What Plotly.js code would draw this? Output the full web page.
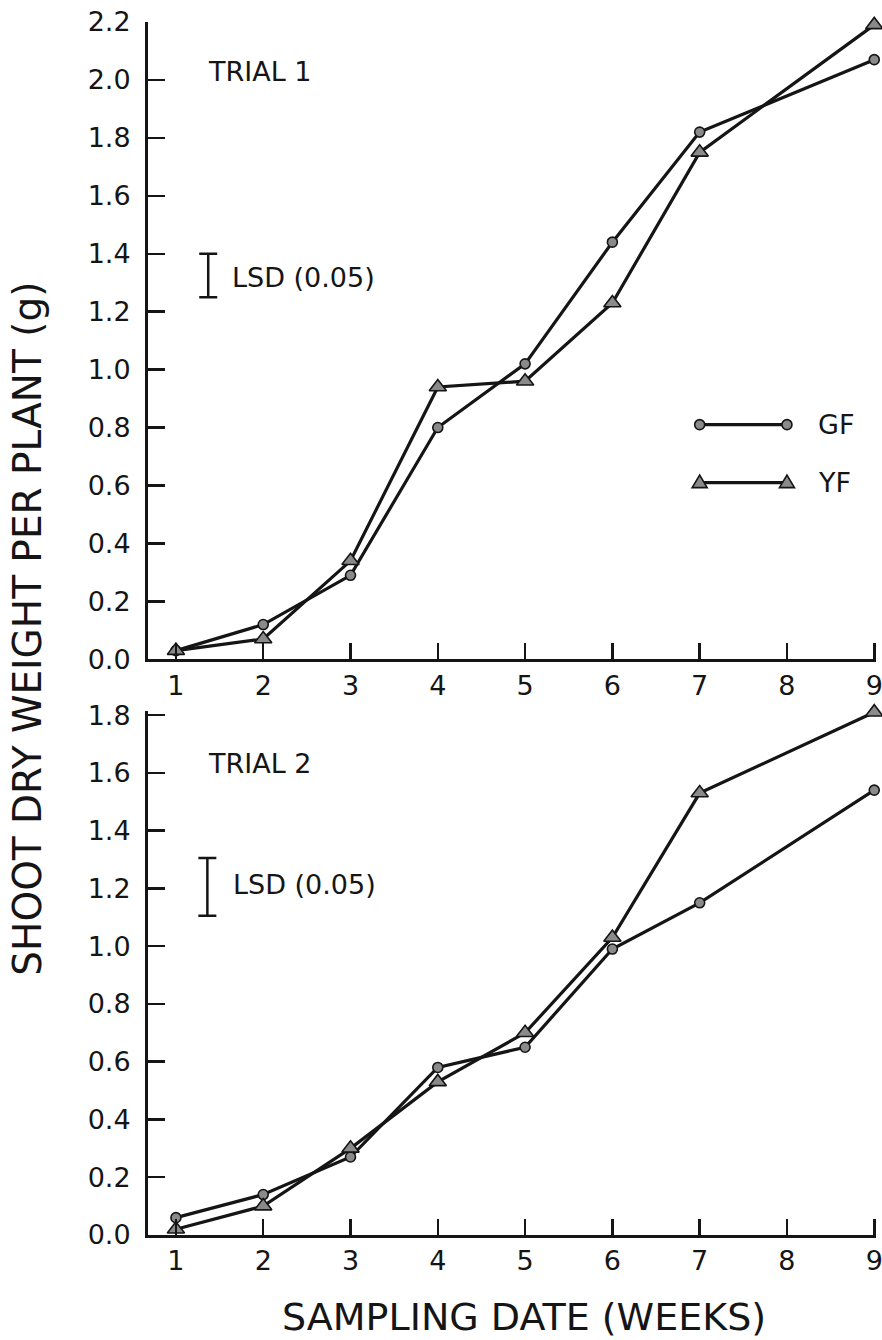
<!DOCTYPE html>
<html><head><meta charset="utf-8">
<script src="https://cdn.plot.ly/plotly-3.0.1.min.js"></script>
<style>html,body{margin:0;padding:0;background:#fff}</style>
</head><body>
<div id="chart" style="width:882px;height:1340px"></div>
<script>
// ---- data ----
const weeks = [1, 2, 3, 4, 5, 6, 7, 9];
const trial1GF = [0.03, 0.12, 0.29, 0.80, 1.02, 1.44, 1.82, 2.07];
const trial1YF = [0.03, 0.07, 0.34, 0.94, 0.96, 1.23, 1.75, 2.19];
const trial2GF = [0.06, 0.14, 0.27, 0.58, 0.65, 0.99, 1.15, 1.54];
const trial2YF = [0.02, 0.10, 0.30, 0.53, 0.70, 1.03, 1.53, 1.81];
const seriesNames = ['GF', 'YF'];
const trialLabels = ['TRIAL 1', 'TRIAL 2'];
const lsdLabel = 'LSD (0.05)';
const lsdValues = [0.15, 0.20];
const xTickVals = [1, 2, 3, 4, 5, 6, 7, 8, 9];
const yTicksTop = [0, 0.2, 0.4, 0.6, 0.8, 1.0, 1.2, 1.4, 1.6, 1.8, 2.0, 2.2];
const yTicksBottom = [0, 0.2, 0.4, 0.6, 0.8, 1.0, 1.2, 1.4, 1.6, 1.8];
const xTitle = 'SAMPLING DATE (WEEKS)';
const yTitle = 'SHOOT DRY WEIGHT PER PLANT (g)';

// ---- styling ----
const FONT = 'DejaVu Sans, sans-serif';
const INK = '#151515';
const FILL = '#8a8a8a';
const lineStyle = {color: INK, width: 3.2};
const circleMarker = {symbol: 'circle', size: 10, color: FILL, line: {color: INK, width: 1.6}};
const triMarker = {symbol: 'triangle-up', size: 15, color: FILL, line: {color: INK, width: 1.6}};

function series(x, y, xa, ya, marker, name) {
  return {x: x, y: y, xaxis: xa, yaxis: ya, type: 'scatter', mode: 'lines+markers',
          name: name, line: lineStyle, marker: marker, cliponaxis: false, showlegend: false};
}
function lsdTrace(xa, ya, xpos, center, value) {
  return {x: [xpos], y: [center], xaxis: xa, yaxis: ya, type: 'scatter', mode: 'markers',
          marker: {size: 1, opacity: 0}, showlegend: false, hoverinfo: 'skip',
          error_y: {type: 'data', array: [value / 2], symmetric: true, color: INK, thickness: 2.5, width: 9}};
}

const data = [
  series(weeks, trial1GF, 'x', 'y', circleMarker, seriesNames[0]),
  series(weeks, trial1YF, 'x', 'y', triMarker, seriesNames[1]),
  series(weeks, trial2GF, 'x2', 'y2', circleMarker, seriesNames[0]),
  series(weeks, trial2YF, 'x2', 'y2', triMarker, seriesNames[1]),
  lsdTrace('x', 'y', 1.37, 1.325, lsdValues[0]),
  lsdTrace('x2', 'y2', 1.36, 1.205, lsdValues[1])
];

const tickFont = {family: FONT, size: 27, color: INK};
function xAxis(anchor) {
  return {anchor: anchor, domain: [0, 1], range: [0.68, 9.02], tickvals: xTickVals,
          ticktext: xTickVals.map(String), ticks: 'inside', ticklen: 16, tickwidth: 2.5,
          tickcolor: INK, showline: true, linewidth: 3, linecolor: INK, showgrid: false,
          zeroline: false, tickfont: tickFont, ticklabeloverflow: 'allow', fixedrange: true};
}
function yAxis(anchor, domain, top, tv) {
  return {anchor: anchor, domain: domain, range: [0, top], tickvals: tv,
          ticktext: tv.map(v => v.toFixed(1)), ticks: 'inside', ticklen: 17, tickwidth: 2.5,
          tickcolor: INK, showline: true, linewidth: 3, linecolor: INK, showgrid: false,
          zeroline: false, tickfont: tickFont, ticklabelstandoff: 9, fixedrange: true};
}

const annFont = {family: FONT, size: 27, color: INK};
const legendFont = {family: FONT, size: 27, color: INK};
const annotations = [
  {xref: 'x', yref: 'y', x: 1.34, y: 2.03, text: trialLabels[0], showarrow: false, xanchor: 'left', yanchor: 'middle', font: annFont},
  {xref: 'x2', yref: 'y2', x: 1.35, y: 1.633, text: trialLabels[1], showarrow: false, xanchor: 'left', yanchor: 'middle', font: annFont},
  {xref: 'x', yref: 'y', x: 1.62, y: 1.318, text: lsdLabel, showarrow: false, xanchor: 'left', yanchor: 'middle', font: annFont},
  {xref: 'x2', yref: 'y2', x: 1.63, y: 1.212, text: lsdLabel, showarrow: false, xanchor: 'left', yanchor: 'middle', font: annFont},
  {xref: 'x', yref: 'y', x: 8.33, y: 0.81, text: seriesNames[0], showarrow: false, xanchor: 'left', yanchor: 'middle', font: legendFont},
  {xref: 'x', yref: 'y', x: 8.33, y: 0.61, text: seriesNames[1], showarrow: false, xanchor: 'left', yanchor: 'middle', font: legendFont},
  {xref: 'paper', yref: 'paper', x: 0.517, y: -0.0676, text: xTitle, showarrow: false, xanchor: 'center', yanchor: 'middle', font: {family: FONT, size: 38, color: INK}},
  {xref: 'paper', yref: 'paper', x: -0.166, y: 0.50, text: yTitle, showarrow: false, textangle: -90, xanchor: 'center', yanchor: 'middle', font: {family: FONT, size: 39, color: INK}}
];

// legend keys: a line with a marker at each end
function keyCircle(x, y) {
  return {type: 'circle', xref: 'x', yref: 'y', xsizemode: 'pixel', ysizemode: 'pixel', xanchor: x, yanchor: y,
          x0: -5, x1: 5, y0: -5, y1: 5, fillcolor: FILL, line: {color: INK, width: 1.6}};
}
function keyTri(x, y) {
  return {type: 'path', xref: 'x', yref: 'y', xsizemode: 'pixel', ysizemode: 'pixel', xanchor: x, yanchor: y,
          path: 'M -7.5 -5 L 7.5 -5 L 0 7.5 Z', fillcolor: FILL, line: {color: INK, width: 1.6}};
}
const shapes = [
  {type: 'line', xref: 'x', yref: 'y', x0: 7.0, x1: 8.0, y0: 0.81, y1: 0.81, line: {color: INK, width: 3.2}},
  {type: 'line', xref: 'x', yref: 'y', x0: 7.0, x1: 8.0, y0: 0.61, y1: 0.61, line: {color: INK, width: 3.2}},
  keyCircle(7.0, 0.81), keyCircle(8.0, 0.81),
  keyTri(7.0, 0.61), keyTri(8.0, 0.61)
];

const layout = {
  width: 882, height: 1340,
  margin: {l: 148, r: 6, t: 22, b: 105},
  paper_bgcolor: '#ffffff', plot_bgcolor: '#ffffff',
  showlegend: false,
  font: {family: FONT, color: INK},
  xaxis: xAxis('y'),
  yaxis: yAxis('x', [0.4746, 1], 2.2, yTicksTop),
  xaxis2: xAxis('y2'),
  yaxis2: yAxis('x2', [0, 0.4322], 1.815, yTicksBottom),
  annotations: annotations,
  shapes: shapes
};

Plotly.newPlot('chart', data, layout, {displayModeBar: false, staticPlot: true});
</script>
</body></html>
